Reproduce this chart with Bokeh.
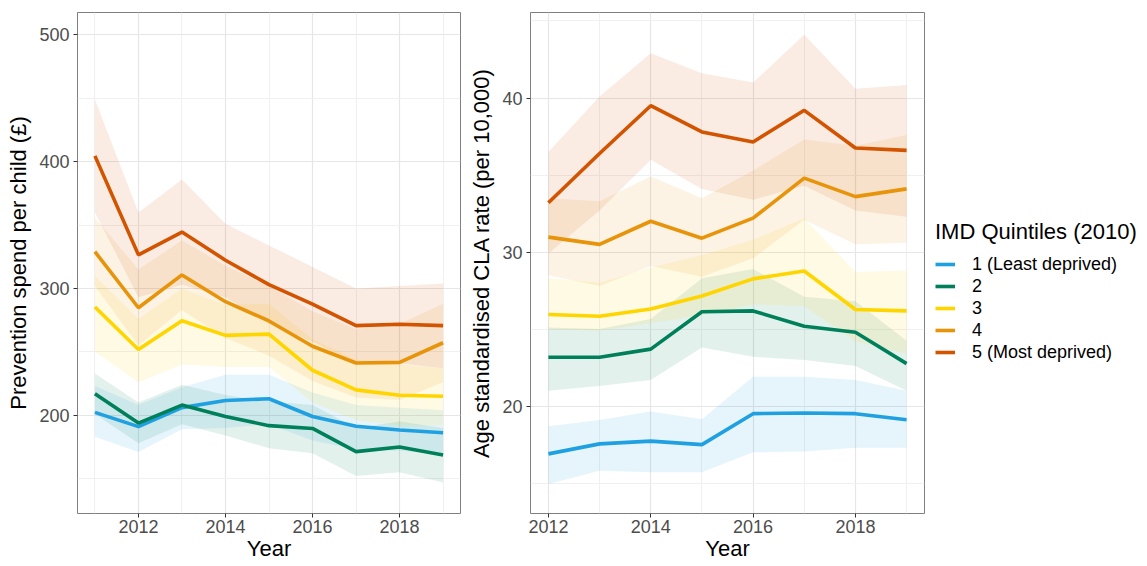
from bokeh.plotting import figure
from bokeh.models import Range1d, FixedTicker, Legend, LegendItem
from bokeh.layouts import row
from bokeh.embed import file_html
from bokeh.resources import INLINE

FONT = "Liberation Sans"

# ---------------- data ----------------
years_spend = [2011, 2012, 2013, 2014, 2015, 2016, 2017, 2018, 2019]
years_cla = [2012, 2013, 2014, 2015, 2016, 2017, 2018, 2019]

quintile_labels = ["1 (Least deprived)", "2", "3", "4", "5 (Most deprived)"]
quintile_colors = ["#1FA0E0", "#00805A", "#FFD500", "#E8940A", "#D35400"]

spend_q1 = [202.3, 191.0, 206.0, 211.6, 213.0, 199.0, 191.3, 188.4, 186.2]
spend_q2 = [217.0, 193.8, 208.0, 199.0, 191.8, 189.6, 171.3, 175.0, 168.7]
spend_q3 = [285.4, 251.8, 274.6, 263.0, 264.0, 235.5, 220.0, 215.8, 215.0]
spend_q4 = [329.0, 284.8, 310.7, 289.6, 274.4, 254.4, 241.2, 241.7, 257.2]
spend_q5 = [404.6, 326.5, 344.5, 322.3, 303.0, 287.6, 270.7, 271.8, 270.7]

spend_q1_lo = [183, 171, 189, 190, 193, 180, 173, 172, 169]
spend_q1_hi = [223, 208, 222, 232, 232, 218, 208, 206, 204]
spend_q2_lo = [201, 178, 193, 184, 174, 170, 152, 155, 147]
spend_q2_hi = [233, 210, 224, 216, 211, 208, 190, 195, 190]
spend_q3_lo = [250, 226, 240, 238, 238, 210, 196, 192, 192]
spend_q3_hi = [310, 276, 300, 287, 288, 260, 244, 240, 237]
spend_q4_lo = [302, 255, 283, 261, 247, 227, 214, 212, 226]
spend_q4_hi = [356, 315, 338, 318, 302, 282, 268, 272, 288]
spend_q5_lo = [360, 293, 303, 293, 272, 258, 241, 241, 237]
spend_q5_hi = [449, 360, 386, 351, 334, 317, 300, 302, 304]

cla_q1 = [16.9, 17.55, 17.73, 17.5, 19.51, 19.55, 19.51, 19.12]
cla_q2 = [23.17, 23.17, 23.7, 26.13, 26.18, 25.19, 24.8, 22.76]
cla_q3 = [25.95, 25.83, 26.3, 27.15, 28.26, 28.77, 26.27, 26.18]
cla_q4 = [30.97, 30.5, 32.0, 30.9, 32.2, 34.8, 33.6, 34.1]
cla_q5 = [33.2, 36.4, 39.5, 37.8, 37.15, 39.2, 36.75, 36.6]

cla_q1_lo = [14.95, 15.8, 15.7, 15.7, 17.0, 17.05, 17.3, 17.3]
cla_q1_hi = [18.7, 19.1, 19.65, 19.15, 21.9, 21.9, 21.7, 21.0]
cla_q2_lo = [21.0, 21.3, 21.7, 23.8, 23.2, 23.0, 22.6, 21.0]
cla_q2_hi = [25.1, 25.0, 25.65, 28.3, 28.9, 27.1, 26.8, 24.25]
cla_q3_lo = [25.0, 24.9, 25.4, 25.9, 26.6, 26.5, 24.2, 23.4]
cla_q3_hi = [28.3, 28.0, 29.0, 29.8, 30.8, 32.2, 28.7, 28.8]
cla_q4_lo = [28.5, 27.8, 29.1, 28.4, 29.6, 32.1, 30.5, 30.6]
cla_q4_hi = [33.5, 33.3, 34.9, 33.5, 35.3, 37.3, 36.9, 37.6]
cla_q5_lo = [29.9, 32.7, 36.0, 34.1, 33.4, 34.3, 32.7, 32.3]
cla_q5_hi = [36.5, 40.1, 42.9, 41.6, 41.0, 44.1, 40.6, 40.85]

spend_ticks = [200, 300, 400, 500]
spend_minor = [150, 250, 350, 450]
cla_ticks = [20, 30, 40]
cla_minor = [15, 25, 35, 45]
year_ticks = [2012, 2014, 2016, 2018]
year_minor = [2011, 2013, 2015, 2017, 2019]

spend_means = [spend_q1, spend_q2, spend_q3, spend_q4, spend_q5]
spend_los = [spend_q1_lo, spend_q2_lo, spend_q3_lo, spend_q4_lo, spend_q5_lo]
spend_his = [spend_q1_hi, spend_q2_hi, spend_q3_hi, spend_q4_hi, spend_q5_hi]
cla_means = [cla_q1, cla_q2, cla_q3, cla_q4, cla_q5]
cla_los = [cla_q1_lo, cla_q2_lo, cla_q3_lo, cla_q4_lo, cla_q5_lo]
cla_his = [cla_q1_hi, cla_q2_hi, cla_q3_hi, cla_q4_hi, cla_q5_hi]


def style(p, yticks, yminor):
    p.outline_line_color = "#7F7F7F"
    p.outline_line_width = 1
    p.background_fill_color = "white"
    p.border_fill_color = "white"
    p.xaxis.ticker = FixedTicker(ticks=year_ticks, minor_ticks=year_minor)
    p.yaxis.ticker = FixedTicker(ticks=yticks, minor_ticks=yminor)
    for ax in (p.xaxis[0], p.yaxis[0]):
        ax.axis_line_color = None
        ax.major_tick_line_color = "#333333"
        ax.major_tick_out = 4
        ax.major_tick_in = 0
        ax.minor_tick_line_color = None
        ax.major_label_text_font = FONT
        ax.major_label_text_font_size = "18px"
        ax.major_label_text_color = "#4D4D4D"
        ax.axis_label_text_font = FONT
        ax.axis_label_text_font_size = "22px"
        ax.axis_label_text_font_style = "normal"
        ax.axis_label_text_color = "#000000"
    p.xaxis.major_label_standoff = 2
    p.yaxis.major_label_standoff = 4
    p.xaxis.axis_label_standoff = 0
    p.yaxis.axis_label_standoff = 5
    for g in (p.xgrid[0], p.ygrid[0]):
        g.grid_line_color = "#E6E6E6"
        g.grid_line_width = 1.2
        g.minor_grid_line_color = "#F0F0F0"
        g.minor_grid_line_width = 1


def draw(p, xs, means, los, his):
    for lo, hi, c in zip(los, his, quintile_colors):
        p.varea(x=xs, y1=lo, y2=hi, fill_color=c, fill_alpha=0.11)
    rs = []
    for m, c in zip(means, quintile_colors):
        rs.append(p.line(x=xs, y=m, line_color=c, line_width=3.6))
    return rs


p1 = figure(frame_width=383, frame_height=501, output_backend="svg", toolbar_location=None,
            x_range=Range1d(2010.6, 2019.4), y_range=Range1d(122.5, 517.7),
            min_border_left=77, min_border_right=6, min_border_top=12, min_border_bottom=40,
            x_axis_label="Year", y_axis_label="Prevention spend per child (£)")
style(p1, spend_ticks, spend_minor)
draw(p1, years_spend, spend_means, spend_los, spend_his)

p2 = figure(frame_width=394, frame_height=501, output_backend="svg", toolbar_location=None,
            x_range=Range1d(2011.65, 2019.35), y_range=Range1d(13.03, 45.55),
            min_border_left=61, min_border_right=0, min_border_top=12, min_border_bottom=40,
            x_axis_label="Year", y_axis_label="Age standardised CLA rate (per 10,000)")
style(p2, cla_ticks, cla_minor)
rs = draw(p2, years_cla, cla_means, cla_los, cla_his)

legend = Legend(items=[LegendItem(label=l, renderers=[r]) for l, r in zip(quintile_labels, rs)],
                title="IMD Quintiles (2010)")
legend.title_text_font = FONT
legend.title_text_font_size = "22px"
legend.title_text_font_style = "normal"
legend.title_text_color = "#000000"
legend.title_standoff = 8
legend.label_text_font = FONT
legend.label_text_font_size = "18px"
legend.label_text_color = "#000000"
legend.glyph_width = 20
legend.glyph_height = 22
legend.label_height = 22
legend.label_standoff = 17
legend.spacing = 0
legend.padding = 10
legend.margin = 0
legend.border_line_color = None
legend.background_fill_alpha = 0
legend.location = (11, 150)
p2.add_layout(legend, "right")

layout = row(p1, p2)
open("out.html", "w").write(file_html(layout, INLINE))
